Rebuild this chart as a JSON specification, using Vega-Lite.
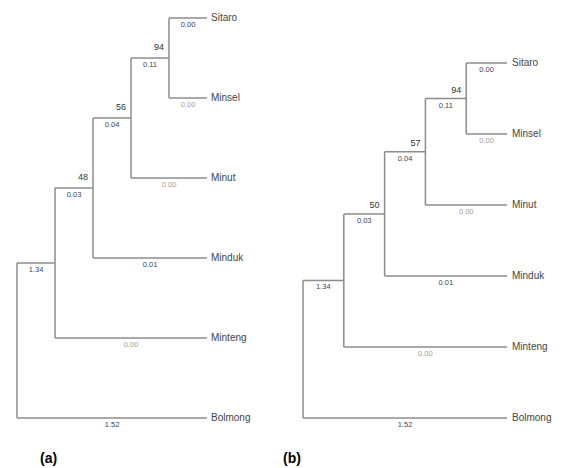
{
  "$schema": "https://vega.github.io/schema/vega-lite/v6.json",
  "background": "white",
  "padding": {"left": 16, "top": 13, "right": 5, "bottom": 5},
  "bounds": "flush",
  "spacing": 96,
  "config": {"view": {"stroke": null}, "font": "Liberation Sans"},
  "datasets": {
    "seg": [
      {"x": 4, "x2": 5, "y": 0, "y2": 0},
      {"x": 4, "x2": 5, "y": 1, "y2": 1},
      {"x": 3, "x2": 4, "y": 0.5, "y2": 0.5},
      {"x": 3, "x2": 5, "y": 2, "y2": 2},
      {"x": 2, "x2": 3, "y": 1.25, "y2": 1.25},
      {"x": 2, "x2": 5, "y": 3, "y2": 3},
      {"x": 1, "x2": 2, "y": 2.125, "y2": 2.125},
      {"x": 1, "x2": 5, "y": 4, "y2": 4},
      {"x": 0, "x2": 1, "y": 3.0625, "y2": 3.0625},
      {"x": 0, "x2": 5, "y": 5, "y2": 5},
      {"x": 4, "x2": 4, "y": 0, "y2": 1},
      {"x": 3, "x2": 3, "y": 0.5, "y2": 2},
      {"x": 2, "x2": 2, "y": 1.25, "y2": 3},
      {"x": 1, "x2": 1, "y": 2.125, "y2": 4},
      {"x": 0, "x2": 0, "y": 3.0625, "y2": 5}
    ],
    "leaves": [
      {"name": "Sitaro", "x": 5, "y": 0},
      {"name": "Minsel", "x": 5, "y": 1},
      {"name": "Minut", "x": 5, "y": 2},
      {"name": "Minduk", "x": 5, "y": 3},
      {"name": "Minteng", "x": 5, "y": 4},
      {"name": "Bolmong", "x": 5, "y": 5}
    ],
    "boot": [
      {"tree": "a", "x": 4, "y": 0.5, "v": "94"},
      {"tree": "a", "x": 3, "y": 1.25, "v": "56"},
      {"tree": "a", "x": 2, "y": 2.125, "v": "48"},
      {"tree": "b", "x": 4, "y": 0.5, "v": "94"},
      {"tree": "b", "x": 3, "y": 1.25, "v": "57"},
      {"tree": "b", "x": 2, "y": 2.125, "v": "50"}
    ],
    "len": [
      {"x": 4.5, "y": 0, "v": "0.00", "tone": "dark"},
      {"x": 4.5, "y": 1, "v": "0.00", "tone": "light"},
      {"x": 3.5, "y": 0.5, "v": "0.11", "tone": "dark"},
      {"x": 4, "y": 2, "v": "0.00", "tone": "light"},
      {"x": 2.5, "y": 1.25, "v": "0.04", "tone": "dark"},
      {"x": 3.5, "y": 3, "v": "0.01", "tone": "dark"},
      {"x": 1.5, "y": 2.125, "v": "0.03", "tone": "dark"},
      {"x": 3, "y": 4, "v": "0.00", "tone": "light"},
      {"x": 0.5, "y": 3.0625, "v": "1.34", "tone": "dark"},
      {"x": 2.5, "y": 5, "v": "1.52", "tone": "dark"}
    ]
  },
  "hconcat": [
    {
      "width": 190,
      "height": 400,
      "title": {"text": "(a)", "orient": "bottom", "anchor": "start", "frame": "group", "dx": 23, "offset": 23, "fontSize": 14, "fontWeight": "bold", "color": "#000000", "font": "Liberation Sans"},
      "layer": [
        {
          "data": {"name": "seg"},
          "mark": {"type": "rule", "color": "#8c8c8c", "strokeWidth": 1.5},
          "encoding": {
            "x": {"field": "x", "type": "quantitative", "scale": {"domain": [0, 5], "nice": false, "zero": false}, "axis": null},
            "x2": {"field": "x2"},
            "y": {"field": "y", "type": "quantitative", "scale": {"domain": [0, 5], "nice": false, "zero": false, "reverse": true}, "axis": null},
            "y2": {"field": "y2"}
          }
        },
        {
          "data": {"name": "leaves"},
          "mark": {"type": "text", "align": "left", "baseline": "middle", "dx": 4, "fontSize": 10, "color": "#444444"},
          "encoding": {
            "x": {"field": "x", "type": "quantitative"},
            "y": {"field": "y", "type": "quantitative"},
            "text": {"field": "name"}
          }
        },
        {
          "data": {"name": "boot"},
          "transform": [{"filter": "datum.tree === 'a'"}],
          "mark": {"type": "text", "align": "center", "baseline": "middle", "dx": -10, "dy": -11, "fontSize": 9, "color": "#333333"},
          "encoding": {
            "x": {"field": "x", "type": "quantitative"},
            "y": {"field": "y", "type": "quantitative"},
            "text": {"field": "v"}
          }
        },
        {
          "data": {"name": "len"},
          "mark": {"type": "text", "align": "center", "baseline": "middle", "dy": 7, "fontSize": 7.5},
          "encoding": {
            "x": {"field": "x", "type": "quantitative"},
            "y": {"field": "y", "type": "quantitative"},
            "text": {"field": "v"},
            "color": {"field": "tone", "type": "nominal", "scale": {"domain": ["dark", "light"], "range": ["#3a3f55", "#a0a0a0"]}, "legend": null}
          }
        }
      ]
    },
    {
      "width": 204,
      "height": 400,
      "title": {"text": "(b)", "orient": "bottom", "anchor": "start", "frame": "group", "dx": -20, "offset": 23, "fontSize": 14, "fontWeight": "bold", "color": "#000000", "font": "Liberation Sans"},
      "layer": [
        {
          "data": {"name": "seg"},
          "mark": {"type": "rule", "color": "#8c8c8c", "strokeWidth": 1.5},
          "encoding": {
            "x": {"field": "x", "type": "quantitative", "scale": {"domain": [0, 5], "nice": false, "zero": false}, "axis": null},
            "x2": {"field": "x2"},
            "y": {"field": "y", "type": "quantitative", "scale": {"domain": [-0.634, 5], "nice": false, "zero": false, "reverse": true}, "axis": null},
            "y2": {"field": "y2"}
          }
        },
        {
          "data": {"name": "leaves"},
          "mark": {"type": "text", "align": "left", "baseline": "middle", "dx": 5, "fontSize": 10, "color": "#444444"},
          "encoding": {
            "x": {"field": "x", "type": "quantitative"},
            "y": {"field": "y", "type": "quantitative"},
            "text": {"field": "name"}
          }
        },
        {
          "data": {"name": "boot"},
          "transform": [{"filter": "datum.tree === 'b'"}],
          "mark": {"type": "text", "align": "center", "baseline": "middle", "dx": -10, "dy": -9, "fontSize": 9, "color": "#333333"},
          "encoding": {
            "x": {"field": "x", "type": "quantitative"},
            "y": {"field": "y", "type": "quantitative"},
            "text": {"field": "v"}
          }
        },
        {
          "data": {"name": "len"},
          "mark": {"type": "text", "align": "center", "baseline": "middle", "dy": 7, "fontSize": 7.5},
          "encoding": {
            "x": {"field": "x", "type": "quantitative"},
            "y": {"field": "y", "type": "quantitative"},
            "text": {"field": "v"},
            "color": {"field": "tone", "type": "nominal", "scale": {"domain": ["dark", "light"], "range": ["#3a3f55", "#a0a0a0"]}, "legend": null}
          }
        }
      ]
    }
  ]
}
